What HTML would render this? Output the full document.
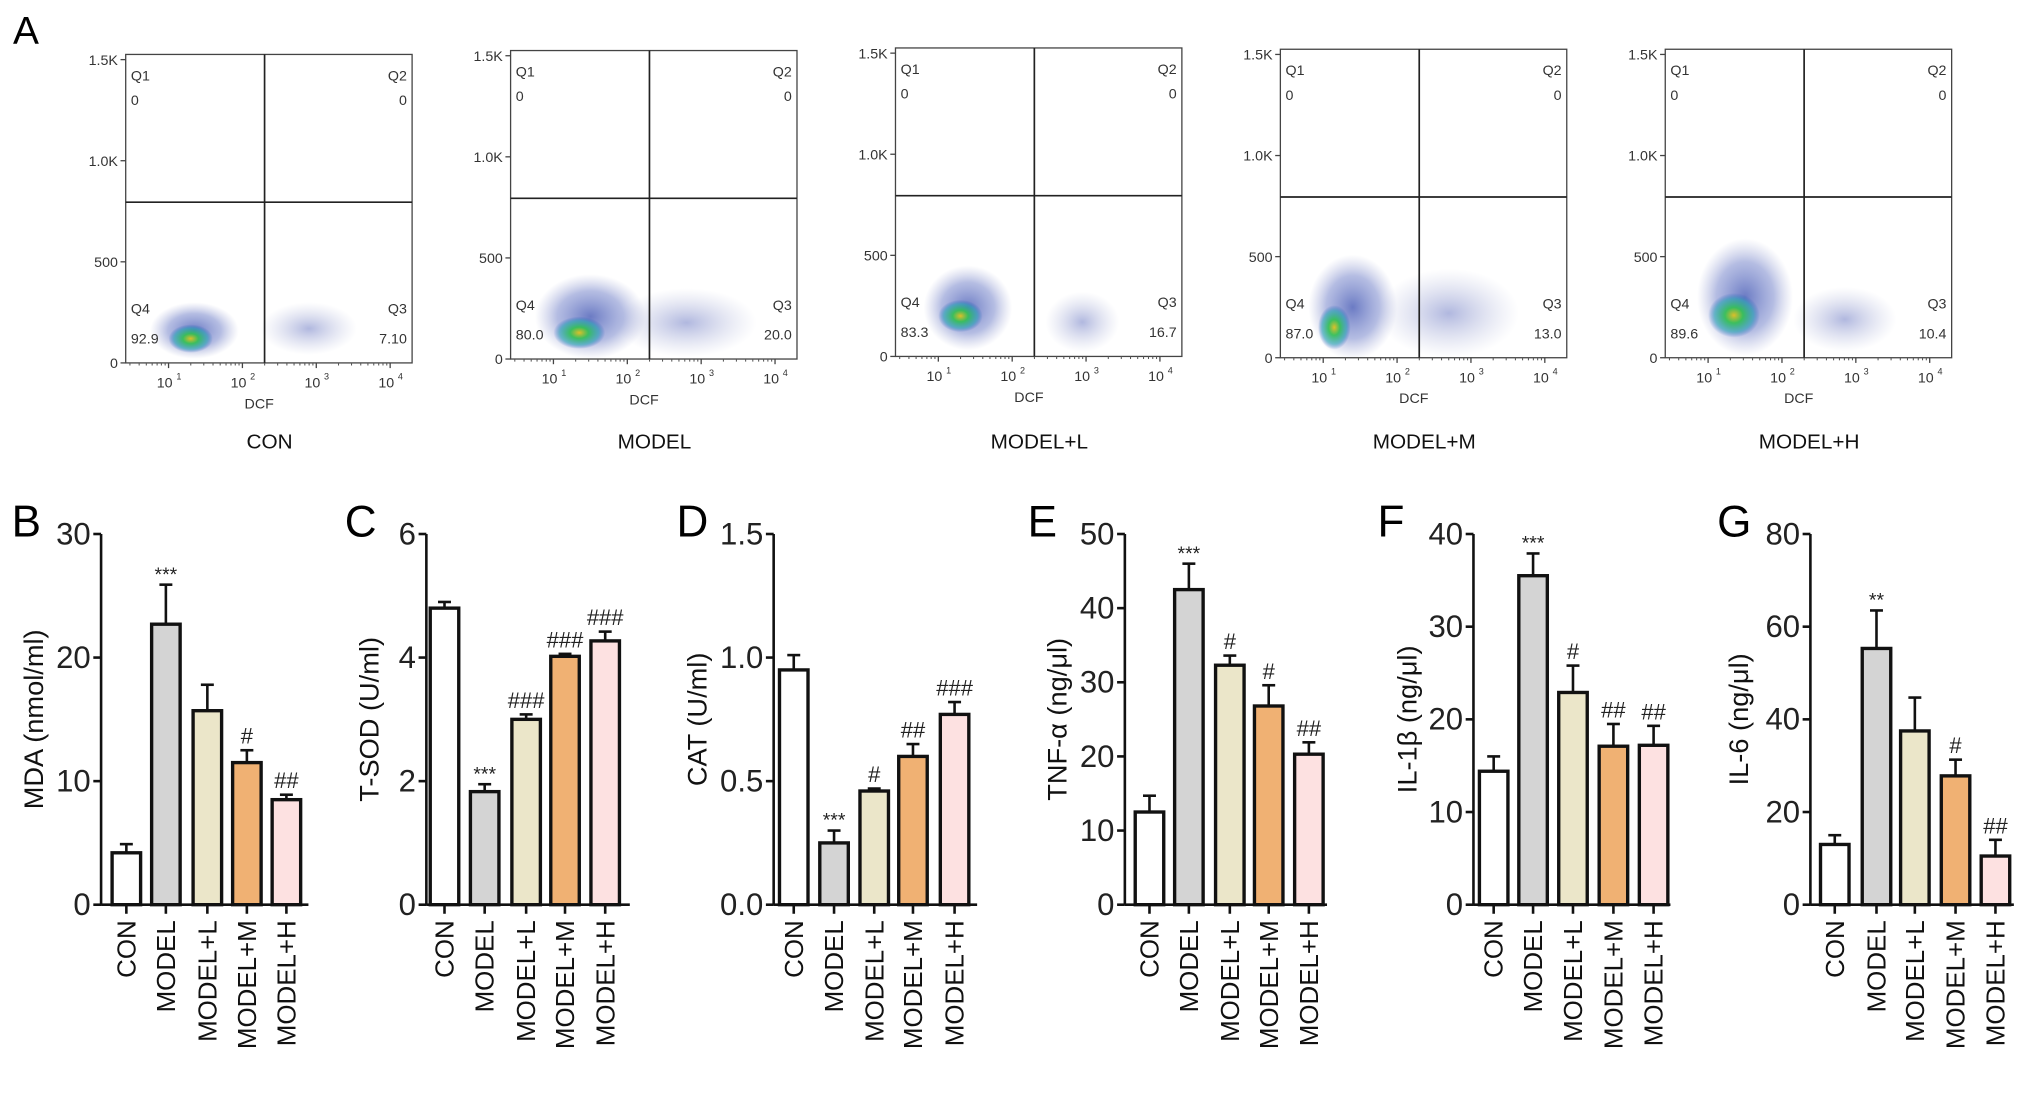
<!DOCTYPE html>
<html><head><meta charset="utf-8"><style>
html,body{margin:0;padding:0;background:#fff;}
svg{display:block;font-family:"Liberation Sans",sans-serif;}
</style></head><body>
<svg id="fig" width="2032" height="1103" viewBox="0 0 1568 851" preserveAspectRatio="none" xmlns="http://www.w3.org/2000/svg">
<defs>
<radialGradient id="gOuter"><stop offset="0" stop-color="#3a4fb0" stop-opacity="0.75"/><stop offset="0.6" stop-color="#5a6cc0" stop-opacity="0.45"/><stop offset="1" stop-color="#8890c8" stop-opacity="0"/></radialGradient>
<radialGradient id="gCore"><stop offset="0" stop-color="#e0c020" stop-opacity="0.95"/><stop offset="0.35" stop-color="#30c050" stop-opacity="0.9"/><stop offset="0.75" stop-color="#20a0b0" stop-opacity="0.6"/><stop offset="1" stop-color="#2050c0" stop-opacity="0"/></radialGradient>
<radialGradient id="gFaint"><stop offset="0" stop-color="#5060b8" stop-opacity="0.45"/><stop offset="1" stop-color="#9098c8" stop-opacity="0"/></radialGradient>
</defs>
<text x="10" y="34" font-size="30">A</text>
</svg>
<script>
// ---- Flow cytometry data ----
const flowGroups = ["CON","MODEL","MODEL+L","MODEL+M","MODEL+H"];
const flowQ4 = ["92.9","80.0","83.3","87.0","89.6"];
const flowQ3 = ["7.10","20.0","16.7","13.0","10.4"];
const flowMainCluster = [[1.35,160,0.6,140],[1.5,210,0.75,210],[1.4,240,0.6,210],[1.4,250,0.6,260],[1.5,300,0.65,290]];
const flowCoreCluster = [[1.3,120,0.3,70],[1.35,130,0.35,80],[1.3,200,0.3,80],[1.15,150,0.22,110],[1.35,210,0.35,110]];
const flowQ3Cluster = [[2.9,170,0.65,130],[2.8,180,0.95,170],[2.95,170,0.5,150],[2.7,220,0.95,220],[2.85,190,0.7,160]];
const flowYTicks = [0,500,1000,1500];
const flowYTickLabels = ["0","500","1.0K","1.5K"];
const flowXTicks = [1,2,3,4];

// ---- Bar chart data ----
const barCategories = ["CON","MODEL","MODEL+L","MODEL+M","MODEL+H"];
const mdaValues = [4.2,22.7,15.7,11.5,8.5];
const mdaErrors = [0.7,3.2,2.1,1.0,0.4];
const mdaMarks = ["","***","","#","##"];
const sodValues = [4.8,1.83,3.0,4.02,4.27];
const sodErrors = [0.1,0.12,0.08,0.04,0.15];
const sodMarks = ["","***","###","###","###"];
const catValues = [0.95,0.25,0.46,0.60,0.77];
const catErrors = [0.06,0.05,0.01,0.05,0.05];
const catMarks = ["","***","#","##","###"];
const tnfValues = [12.5,42.5,32.3,26.8,20.3];
const tnfErrors = [2.2,3.5,1.3,2.8,1.6];
const tnfMarks = ["","***","#","#","##"];
const il1Values = [14.4,35.5,22.9,17.1,17.2];
const il1Errors = [1.6,2.4,2.9,2.4,2.1];
const il1Marks = ["","***","#","##","##"];
const il6Values = [13,55.3,37.5,27.8,10.5];
const il6Errors = [2,8.2,7.2,3.5,3.5];
const il6Marks = ["","**","","#","##"];
const mdaTicks = [0,10,20,30];
const sodTicks = [0,2,4,6];
const catTicks = [0,0.5,1.0,1.5];
const catTickLabels = ["0.0","0.5","1.0","1.5"];
const tnfTicks = [0,10,20,30,40,50];
const il1Ticks = [0,10,20,30,40];
const il6Ticks = [0,20,40,60,80];

const NS="http://www.w3.org/2000/svg";
const svg=document.getElementById('fig');
function mk(tag,attrs,parent){const e=document.createElementNS(NS,tag);for(const k in attrs)e.setAttribute(k,attrs[k]);(parent||svg).appendChild(e);return e;}
function txt(s,attrs,parent){const e=mk('text',attrs,parent);e.textContent=s;return e;}

// ---- flow plots ----
const flowLeft=[97,394,691,988,1285];
const flowBottom=[280,277,275,276,276];
flowGroups.forEach((g,i)=>{
  const grp=mk('g',{});
  
  
  const L=flowLeft[i],B=flowBottom[i],W=221,top=B-238;
  const fx=v=>L+(v-0.42)*57;
  const fy=v=>B-v*78/500;
  const clusters=[[flowQ3Cluster[i],'gFaint'],[flowMainCluster[i],'gOuter'],[flowCoreCluster[i],'gCore']];
  clusters.forEach(([c,gr])=>{
    const el=mk('ellipse',{cx:fx(c[0]),cy:fy(c[1]),rx:c[2]*57,ry:c[3]*78/500,fill:'url(#'+gr+')'},grp);
    
    
  });
  const box=mk('rect',{x:L,y:top,width:W,height:B-top,fill:'none',stroke:'#444','stroke-width':1},grp);
  
  
  const gx=fx(2.3),gy=fy(795);
  const vl=mk('line',{x1:gx,y1:top,x2:gx,y2:B,stroke:'#222','stroke-width':1.3},grp);
  
  
  const hl=mk('line',{x1:L,y1:gy,x2:L+W,y2:gy,stroke:'#222','stroke-width':1.3},grp);
  
  
  flowYTicks.forEach((t,k)=>{
    mk('line',{x1:L-4,y1:fy(t),x2:L,y2:fy(t),stroke:'#444','stroke-width':1},grp);
    const tl=txt(flowYTickLabels[k],{x:L-6,y:fy(t)+4,'font-size':11,'text-anchor':'end',fill:'#333'},grp);
    
    
  });
  for(let d=0;d<4;d++)for(let m=2;m<10;m++){const lv=d+Math.log10(m);if(lv>0.42&&lv<4.3)mk('line',{x1:fx(lv),y1:B,x2:fx(lv),y2:B+2,stroke:'#555','stroke-width':0.8},grp);}
  flowXTicks.forEach(t=>{
    mk('line',{x1:fx(t),y1:B,x2:fx(t),y2:B+4,stroke:'#444','stroke-width':1},grp);
    const tl=txt('10',{x:fx(t)-3,y:B+19,'font-size':11,'text-anchor':'middle',fill:'#333'},grp);
    
    
    txt(String(t),{x:fx(t)+6,y:B+13,'font-size':7,fill:'#333'},grp);
  });
  const dcf=txt('DCF',{x:L+103,y:B+35,'font-size':11,'text-anchor':'middle',fill:'#333'},grp);
  
  
  const qs=[['Q1',L+4,top+20,'start'],['0',L+4,top+39,'start'],['Q2',L+W-4,top+20,'end'],['0',L+W-4,top+39,'end'],['Q4',L+4,B-38,'start'],[flowQ4[i],L+4,B-15,'start'],['Q3',L+W-4,B-38,'end'],[flowQ3[i],L+W-4,B-15,'end']];
  qs.forEach(q=>{const t=txt(q[0],{x:q[1],y:q[2],'font-size':11,'text-anchor':q[3],fill:'#333'},grp);
    
    });
  const gl=txt(g,{x:L+111,y:346,'font-size':16,'text-anchor':'middle',fill:'#111'},grp);
  
  
});

// ---- bar charts ----
const fills=['#ffffff','#d4d4d4','#ebe6c9','#f0b173','#fde1e1'];
const panels=[
 {id:'mda',letter:'B',lx:9,ax:78,centers:[97.5,128,160,190.5,221],end:238,title:'MDA (nmol/ml)',tx:25,ticks:mdaTicks,labels:null,max:30,vals:mdaValues,errs:mdaErrors,marks:mdaMarks},
 {id:'tsod',letter:'C',lx:266,ax:329,centers:[343,374,406,436,467],end:486,title:'T-SOD (U/ml)',tx:284,ticks:sodTicks,labels:null,max:6,vals:sodValues,errs:sodErrors,marks:sodMarks},
 {id:'cat',letter:'D',lx:522,ax:597,centers:[612.5,643.6,674.6,704.5,736.6],end:754,title:'CAT (U/ml)',tx:537,ticks:catTicks,labels:catTickLabels,max:1.5,vals:catValues,errs:catErrors,marks:catMarks},
 {id:'tnf',letter:'E',lx:793,ax:868,centers:[887,917.4,949,979,1010],end:1024,title:'TNF-\u03b1 (ng/\u03bcl)',tx:815,ticks:tnfTicks,labels:null,max:50,vals:tnfValues,errs:tnfErrors,marks:tnfMarks},
 {id:'il1b',letter:'F',lx:1063,ax:1137,centers:[1152.6,1183,1213.8,1245,1276],end:1289,title:'IL-1\u03b2 (ng/\u03bcl)',tx:1085,ticks:il1Ticks,labels:null,max:40,vals:il1Values,errs:il1Errors,marks:il1Marks},
 {id:'il6',letter:'G',lx:1325,ax:1397,centers:[1415.8,1448,1477.6,1509,1539.8],end:1554,title:'IL-6 (ng/\u03bcl)',tx:1341,ticks:il6Ticks,labels:null,max:80,vals:il6Values,errs:il6Errors,marks:il6Marks}
];
const Y0=698,YT=412,BW=22;
panels.forEach(p=>{
  const grp=mk('g',{});
  
  
  const ys=v=>Y0-(v/p.max)*(Y0-YT);
  const pl=txt(p.letter,{x:p.lx,y:414,'font-size':34},grp);
  
  
  const yt=txt(p.title,{x:0,y:0,'font-size':21,'text-anchor':'middle',transform:`translate(${p.tx+8},555) rotate(-90)`,fill:'#111'},grp);
  
  
  const ya=mk('line',{x1:p.ax,y1:YT,x2:p.ax,y2:Y0,stroke:'#111','stroke-width':2},grp);
  
  
  const xa=mk('line',{x1:p.ax,y1:Y0,x2:p.end,y2:Y0,stroke:'#111','stroke-width':2},grp);
  
  
  p.ticks.forEach((t,k)=>{
    mk('line',{x1:p.ax-6,y1:ys(t),x2:p.ax,y2:ys(t),stroke:'#111','stroke-width':2},grp);
    const tl=txt(p.labels?p.labels[k]:String(t),{x:p.ax-8,y:ys(t)+8,'font-size':24,'text-anchor':'end',fill:'#222'},grp);
    
    
  });
  barCategories.forEach((c,k)=>{
    const cx=p.centers[k],v=p.vals[k],e=p.errs[k];
    const top=ys(v),et=ys(v+e);
    const eb=mk('line',{x1:cx,y1:et,x2:cx,y2:top,stroke:'#111','stroke-width':2},grp);
    
    
    mk('line',{x1:cx-5,y1:et,x2:cx+5,y2:et,stroke:'#111','stroke-width':2},grp);
    const r=mk('rect',{x:cx-BW/2,y:top,width:BW,height:Y0-top,fill:fills[k],stroke:'#111','stroke-width':2.6},grp);
    
    
    if(p.marks[k]){
      const star=p.marks[k].indexOf('*')>=0;
      const m=txt(p.marks[k],{x:cx,y:et-(star?3:5),'font-size':star?15:17,'text-anchor':'middle',fill:'#222'},grp);
      
      
    }
    mk('line',{x1:cx,y1:Y0,x2:cx,y2:Y0+7,stroke:'#111','stroke-width':2},grp);
    const xl=txt(c,{x:0,y:0,'font-size':20,'text-anchor':'end',transform:`translate(${cx+7},${Y0+12}) rotate(-90)`,fill:'#111'},grp);
    
    
  });
});
</script>
</body></html>
